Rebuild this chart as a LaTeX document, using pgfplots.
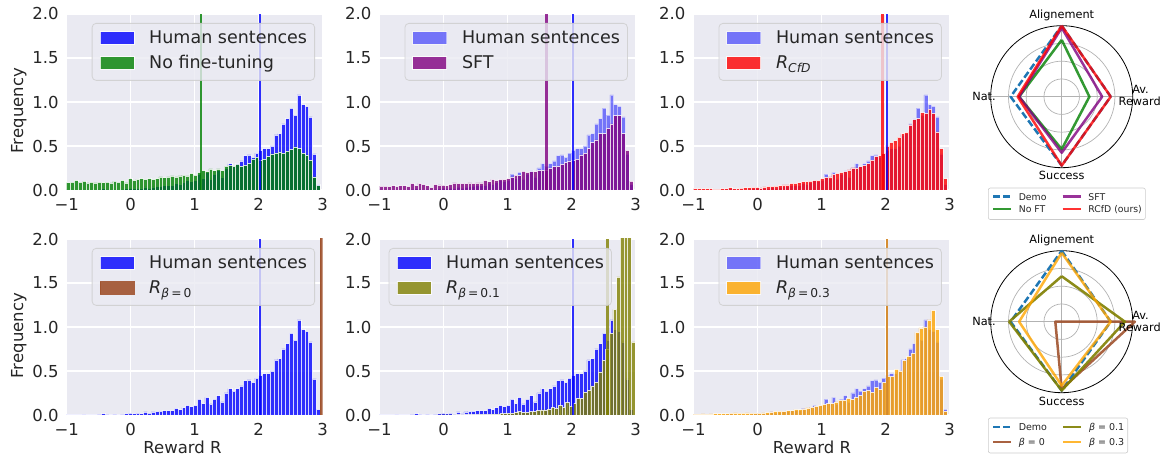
\documentclass[border=0pt]{standalone}
\usepackage{fontspec}
\setmainfont{DejaVu Sans}
\usepackage{pgfplots}
\usepackage{pgfplotstable}
\pgfplotsset{compat=1.18}

\definecolor{bgc}{RGB}{234,234,242}
\definecolor{tickc}{RGB}{38,38,38}
\definecolor{hblue}{RGB}{0,0,255}
\definecolor{mgreen}{RGB}{0,128,0}
\definecolor{mpurple}{RGB}{128,0,128}
\definecolor{mred}{RGB}{255,0,0}
\definecolor{msienna}{RGB}{160,82,45}
\definecolor{molive}{RGB}{128,128,0}
\definecolor{morange}{RGB}{255,165,0}
\definecolor{tabblue}{RGB}{31,119,180}

\pgfplotstableread{
x human noft sft rcfd
2.93 0.065 0.05 0.10 0.13
2.87 0.41 0.15 0.45 0.47
2.81 0.83 0.34 0.64 0.66
2.75 0.95 0.40 0.845 0.87
2.69 0.97 0.42 0.845 0.92
2.63 1.08 0.47 0.75 0.87
2.57 0.85 0.49 0.70 0.88
2.51 0.93 0.46 0.64 0.81
2.45 0.81 0.44 0.64 0.80
2.39 0.75 0.42 0.57 0.74
2.33 0.64 0.43 0.54 0.655
2.27 0.625 0.42 0.47 0.64
2.21 0.50 0.41 0.42 0.60
2.15 0.47 0.38 0.40 0.56
2.09 0.47 0.35 0.35 0.54
2.03 0.45 0.34 0.34 0.50
1.97 0.42 0.37 0.33 0.42
1.91 0.37 0.35 0.31 0.39
1.85 0.40 0.30 0.29 0.38
1.79 0.39 0.28 0.27 0.34
1.73 0.33 0.27 0.265 0.30
1.67 0.30 0.29 0.25 0.28
1.61 0.27 0.27 0.23 0.265
1.55 0.30 0.28 0.22 0.25
1.49 0.25 0.27 0.22 0.25
1.43 0.15 0.22 0.21 0.23
1.37 0.22 0.24 0.21 0.21
1.31 0.18 0.22 0.20 0.20
1.25 0.125 0.24 0.215 0.19
1.19 0.20 0.21 0.17 0.18
1.13 0.13 0.22 0.17 0.15
1.07 0.18 0.20 0.15 0.144
1.01 0.11 0.17 0.13 0.13
0.95 0.095 0.19 0.12 0.11
0.89 0.11 0.16 0.12 0.11
0.83 0.083 0.17 0.11 0.10
0.77 0.06 0.16 0.12 0.095
0.71 0.076 0.15 0.095 0.095
0.65 0.05 0.16 0.11 0.083
0.59 0.05 0.15 0.08 0.076
0.53 0.05 0.14 0.08 0.076
0.47 0.045 0.15 0.076 0.057
0.41 0.04 0.13 0.08 0.057
0.35 0.035 0.12 0.076 0.05
0.29 0.02 0.13 0.076 0.045
0.23 0.035 0.12 0.076 0.04
0.17 0.015 0.13 0.08 0.04
0.11 0.02 0.12 0.065 0.035
0.05 0.015 0.11 0.05 0.023
-0.01 0.02 0.13 0.055 0.03
-0.07 0.015 0.08 0.057 0.03
-0.13 0.01 0.11 0.064 0.027
-0.19 0.005 0.09 0.03 0.027
-0.25 0.01 0.10 0.05 0.02
-0.31 0.005 0.08 0.064 0.015
-0.37 0.01 0.09 0.075 0.015
-0.43 0.015 0.085 0.053 0.027
-0.49 0.01 0.09 0.075 0.015
-0.55 0.005 0.08 0.04 0.015
-0.61 0.003 0.09 0.05 0.01
-0.67 0.003 0.08 0.05 0.01
-0.73 0.008 0.10 0.04 0.015
-0.79 0.003 0.09 0.05 0.015
-0.85 0.005 0.11 0.04 0.015
-0.91 0.003 0.09 0.045 0.015
-0.97 0.003 0.085 0.045 0.015
}\common

\pgfplotstableread{
x y
2.960 0.83
2.903 3.0
2.846 3.0
2.789 3.0
2.732 1.57
2.675 1.2
2.618 0.93
2.561 0.75
2.504 0.62
2.447 0.49
2.390 0.37
2.333 0.33
2.276 0.28
2.219 0.26
2.162 0.19
2.105 0.19
2.048 0.13
1.991 0.10
1.934 0.14
1.877 0.087
1.820 0.11
1.763 0.076
1.706 0.083
1.649 0.068
1.592 0.057
1.535 0.057
1.478 0.05
1.421 0.038
1.364 0.038
1.307 0.03
1.250 0.03
1.193 0.038
1.136 0.03
1.079 0.02
1.022 0.02
0.965 0.015
0.908 0.015
0.851 0.011
0.794 0.01
0.737 0.008
0.680 0.008
0.623 0.006
0.566 0.006
0.509 0.005
0.452 0.005
0.395 0.004
0.338 0.004
0.281 0.003
0.224 0.003
0.167 0.003
0.110 0.002
0.053 0.002
-0.004 0.002
-0.061 0.002
}\olivetab

\pgfplotstableread{
x y
2.930 0.045
2.867 0.44
2.804 0.97
2.741 1.19
2.678 1.08
2.615 1.00
2.552 0.99
2.489 0.94
2.426 0.70
2.363 0.67
2.300 0.62
2.237 0.50
2.174 0.52
2.111 0.44
2.048 0.44
1.985 0.37
1.922 0.29
1.859 0.31
1.796 0.26
1.733 0.28
1.670 0.27
1.607 0.22
1.544 0.20
1.481 0.18
1.418 0.19
1.355 0.17
1.292 0.17
1.229 0.15
1.166 0.13
1.103 0.13
1.040 0.12
0.977 0.11
0.914 0.10
0.851 0.09
0.788 0.08
0.725 0.07
0.662 0.06
0.599 0.065
0.536 0.05
0.473 0.05
0.410 0.04
0.347 0.045
0.284 0.04
0.221 0.035
0.158 0.03
0.095 0.025
0.032 0.02
-0.031 0.02
-0.094 0.02
-0.157 0.025
-0.220 0.02
-0.283 0.02
-0.346 0.025
-0.409 0.02
-0.472 0.015
-0.535 0.015
-0.598 0.015
-0.661 0.015
-0.724 0.012
-0.787 0.01
-0.850 0.012
-0.913 0.01
-0.976 0.01
}\orangetab

\pgfplotsset{
  hist/.style={
    scale only axis, width=256pt, height=176pt,
    xmin=-1, xmax=3, ymin=0, ymax=2,
    axis background/.style={fill=bgc},
    axis line style={draw=none},
    major tick length=0pt,
    xmajorgrids, ymajorgrids,
    major grid style={white, line width=1.1pt},
    xtick={-1,0,1,2,3}, xticklabels={−1,0,1,2,3},
    ytick={0,0.5,1,1.5,2}, yticklabels={0.0,0.5,1.0,1.5,2.0},
    tick label style={font=\fontsize{16.5}{18}\selectfont, text=tickc},
    xticklabel style={yshift=-4.5pt},
    yticklabel style={xshift=-4.5pt},
    legend cell align=left,
    legend style={at={(0.970,0.949)}, anchor=north east,
      fill=bgc, fill opacity=0.8, draw opacity=0.8, text opacity=1,
      draw=black!20, line width=0.8pt, rounded corners=4pt,
      font=\fontsize{17.5}{20}\selectfont, text=tickc,
      inner xsep=7.5pt, inner ysep=7.5pt, row sep=8pt,
      nodes={inner sep=0pt, text height=13pt, text depth=4pt},
      /tikz/every odd column/.style={column sep=15pt}},
    legend image code/.code={\draw[#1, sharp corners, line width=0.6pt] (0pt,-4.5pt) rectangle (34pt,7.8pt);},
  },
  hbar/.style={ybar, bar shift=0pt, bar width=0.06, draw=white, line width=0.5pt, fill=#1},
  vline/.style={forget plot, #1, opacity=0.8, line width=2.5pt},
  radar/.style={scale only axis, width=142pt, height=142pt,
    xmin=-1, xmax=1, ymin=-1, ymax=1, hide axis, clip=false,
    legend columns=2, transpose legend, legend cell align=left,
    legend style={anchor=north west, draw=black!20, rounded corners=2pt, line width=0.6pt,
      font=\fontsize{9.3}{10}\selectfont, text=tickc,
      inner xsep=3.5pt, inner ysep=5pt, row sep=3.5pt,
      nodes={inner sep=0pt, text height=7pt, text depth=2pt},
      /tikz/every odd column/.style={column sep=6.5pt},
      /tikz/every even column/.style={column sep=15pt}},
    legend image code/.code={\draw[#1, sharp corners] (0pt,0.8pt) -- (18pt,0.8pt);},
  },
  rline/.style={#1, line width=2.5pt, line join=round},
}

\newcommand{\radargrid}{%
  \draw[black!30, line width=0.7pt] (axis cs:-1,0) -- (axis cs:1,0);
  \draw[black!30, line width=0.7pt] (axis cs:0,-1) -- (axis cs:0,1);
  \draw[black!30, line width=0.7pt] (axis cs:0,0) circle[radius=17.75pt];
  \draw[black!30, line width=0.7pt] (axis cs:0,0) circle[radius=35.5pt];
  \draw[black!30, line width=0.7pt] (axis cs:0,0) circle[radius=53.25pt];
  \draw[black, line width=0.8pt] (axis cs:0,0) circle[radius=71pt];
}

\begin{document}
\begin{tikzpicture}
\path[use as bounding box] (0,0) rectangle (1161pt,457pt);

% ---------- top row ----------
\begin{axis}[hist, at={(66.7pt,267pt)}, anchor=south west]
\addplot[hbar=hblue, opacity=0.8] table[x=x,y=human]{\common};
\addlegendentry{Human sentences}
\addplot[hbar=mgreen, opacity=0.8] table[x=x,y=noft]{\common};
\addlegendentry{No fine-tuning}
\addplot[vline=mgreen] coordinates {(1.10,0) (1.10,2)};
\addplot[vline=hblue] coordinates {(2.02,0) (2.02,2)};
\end{axis}

\begin{axis}[hist, at={(379.5pt,267pt)}, anchor=south west]
\addplot[hbar=hblue, opacity=0.5] table[x=x,y=human]{\common};
\addlegendentry{Human sentences}
\addplot[hbar=mpurple, opacity=0.8] table[x=x,y=sft]{\common};
\addlegendentry{SFT}
\addplot[vline=mpurple] coordinates {(1.61,0) (1.61,2)};
\addplot[vline=hblue] coordinates {(2.02,0) (2.02,2)};
\end{axis}

\begin{axis}[hist, at={(693.5pt,267pt)}, anchor=south west]
\addplot[hbar=hblue, opacity=0.5] table[x=x,y=human]{\common};
\addlegendentry{Human sentences}
\addplot[hbar=mred, opacity=0.8] table[x=x,y=rcfd]{\common};
\addlegendentry{\textit{R}\textsubscript{\textit{CfD}}}
\addplot[vline=mred] coordinates {(1.955,0) (1.955,2)};
\addplot[vline=hblue] coordinates {(2.025,0) (2.025,2)};
\end{axis}

% ---------- bottom row ----------
\begin{axis}[hist, at={(66.7pt,42pt)}, anchor=south west]
\addplot[hbar=hblue, opacity=0.8] table[x=x,y=human]{\common};
\addlegendentry{Human sentences}
\addplot[ybar, bar shift=0pt, bar width=0.04, fill=msienna, draw=msienna, line width=0.3pt, opacity=0.9] coordinates {(2.98,5)};
\addlegendentry{\textit{R}\textsubscript{\textit{β}\,=\,0}}
\addplot[vline=hblue] coordinates {(2.02,0) (2.02,2)};
\end{axis}

\begin{axis}[hist, at={(379.5pt,42pt)}, anchor=south west, legend style={at={(0.908,0.949)}}]
\addplot[hbar=hblue, opacity=0.8] table[x=x,y=human]{\common};
\addlegendentry{Human sentences}
\addplot[ybar, bar shift=0pt, bar width=0.057, draw=white, line width=0.5pt, fill=molive, opacity=0.8] table[x=x,y=y]{\olivetab};
\addlegendentry{\textit{R}\textsubscript{\textit{β}\,=\,0.1}}
\addplot[vline=hblue] coordinates {(2.02,0) (2.02,2)};
\addplot[vline=molive] coordinates {(2.56,0) (2.56,2)};
\end{axis}

\begin{axis}[hist, at={(693.5pt,42pt)}, anchor=south west]
\addplot[hbar=hblue, opacity=0.5] table[x=x,y=human]{\common};
\addlegendentry{Human sentences}
\addplot[ybar, bar shift=0pt, bar width=0.063, draw=white, line width=0.5pt, fill=morange, opacity=0.8] table[x=x,y=y]{\orangetab};
\addlegendentry{\textit{R}\textsubscript{\textit{β}\,=\,0.3}}
\addplot[vline=hblue] coordinates {(2.02,0) (2.02,2)};
\addplot[vline=morange] coordinates {(2.02,0) (2.02,2)};
\end{axis}

% axis labels
\node[rotate=90, font=\fontsize{16.5}{18}\selectfont, text=tickc] at (18.8pt,346.3pt) {Frequency};
\node[rotate=90, font=\fontsize{16.5}{18}\selectfont, text=tickc] at (18.8pt,121.3pt) {Frequency};
\node[anchor=base, font=\fontsize{16.5}{18}\selectfont, text=tickc] at (182.5pt,3.5pt) {Reward R};
\node[anchor=base, font=\fontsize{16.5}{18}\selectfont, text=tickc] at (812pt,3.5pt) {Reward R};

% ---------- radar top ----------
\begin{axis}[radar, at={(1061.7pt,360.3pt)}, anchor=center, legend style={at={(-0.019,-0.141)}}]
\radargrid
\addplot[rline=tabblue, dash pattern=on 7pt off 3pt] coordinates {(0,1.0) (0.69,0) (0,-0.97) (-0.72,0) (0,1.0)};
\addlegendentry{Demo}
\addplot[rline=mgreen, opacity=0.8] coordinates {(0,0.80) (0.39,0) (0,-0.74) (-0.60,0) (0,0.80)};
\addlegendentry{No FT}
\addplot[rline=mpurple, opacity=0.8] coordinates {(0,0.97) (0.57,0) (0,-0.79) (-0.60,0) (0,0.97)};
\addlegendentry{SFT}
\addplot[rline=mred, opacity=0.8] coordinates {(0,1.0) (0.69,0) (0,-0.97) (-0.62,0) (0,1.0)};
\addlegendentry{RCfD (ours)\hspace{12pt}}
\end{axis}

% ---------- radar bottom ----------
\begin{axis}[radar, at={(1061.7pt,135.3pt)}, anchor=center, legend style={at={(-0.019,-0.176)}, font=\fontsize{9.5}{11}\selectfont, row sep=5pt, nodes={inner sep=0pt, text height=7.5pt, text depth=2.5pt}}]
\radargrid
\addplot[rline=tabblue, dash pattern=on 7pt off 3pt] coordinates {(0,1.0) (0.69,0) (0,-0.97) (-0.72,0) (0,1.0)};
\addlegendentry{Demo}
\addplot[rline=msienna, opacity=0.9] coordinates {(0,0) (1.03,0) (0,-0.95) (-0.09,0) (0,0)};
\addlegendentry{\textit{β} = 0}
\addplot[rline=molive, opacity=0.9] coordinates {(0,0.64) (0.89,0) (0,-0.97) (-0.74,0) (0,0.64)};
\addlegendentry{\textit{β} = 0.1}
\addplot[rline=morange, opacity=0.8] coordinates {(0,0.97) (0.69,0) (0,-0.90) (-0.60,0) (0,0.97)};
\addlegendentry{\textit{β} = 0.3}
\end{axis}

% radar labels
\begin{scope}[every node/.style={font=\fontsize{11.3}{12}\selectfont, anchor=base, text=black}]
\node at (1061.7pt,438pt) {Alignement};
\node at (1061.7pt,277pt) {Success};
\node at (984pt,356.3pt) {Nat.};
\node at (1140.5pt,363.7pt) {Av.};
\node at (1139.7pt,351pt) {Reward};
\node at (1061.7pt,213pt) {Alignement};
\node at (1061.7pt,51pt) {Success};
\node at (984pt,131pt) {Nat.};
\node at (1140.5pt,137pt) {Av.};
\node at (1139.7pt,125.5pt) {Reward};
\end{scope}
\end{tikzpicture}
\end{document}
